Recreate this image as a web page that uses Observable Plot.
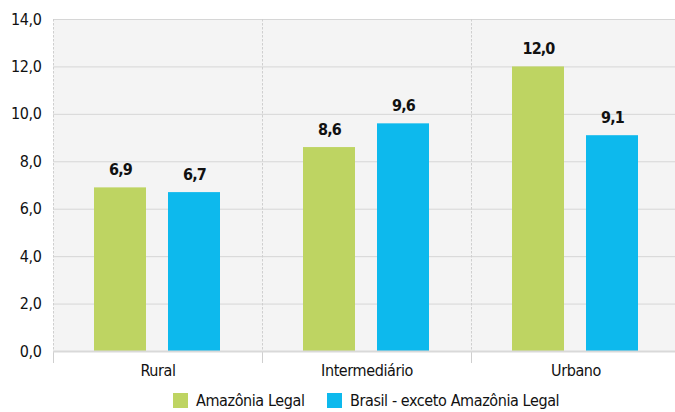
<!DOCTYPE html>
<html><head><meta charset="utf-8">
<script src="https://cdn.jsdelivr.net/npm/d3@7"></script>
<script src="https://cdn.jsdelivr.net/npm/@observablehq/plot@0.6"></script>
<style>
body{margin:0;background:#fff;overflow:hidden;font-family:"DejaVu Sans Condensed",sans-serif;color:#111;}
#chart{width:675px;height:385px;overflow:hidden;}
#chart svg{max-width:none !important;}
#legend{position:relative;height:27px;font-size:16px;letter-spacing:-0.4px;}
.item{position:absolute;top:6px;display:flex;align-items:center;white-space:nowrap;}
.sw{width:15px;height:15px;margin-right:8px;display:inline-block;}
</style>
</head><body>
<div id="chart"></div>
<div id="legend"></div>
<script>
const groups = ["Rural", "Intermediário", "Urbano"];
const seriesNames = ["Amazônia Legal", "Brasil - exceto Amazônia Legal"];
const amazonia = [6.9, 8.6, 12.0];
const brasil = [6.7, 9.6, 9.1];
const colors = ["#bed462", "#0db9ed"];
const yTicks = [0, 2, 4, 6, 8, 10, 12, 14];

const seriesValues = [amazonia, brasil];
const data = [];
groups.forEach((g, i) => seriesNames.forEach((s, j) => data.push({group: g, series: s, value: seriesValues[j][i]})));
const fmt = v => v.toFixed(1).replace(".", ",");
const FONT = '"DejaVu Sans Condensed",sans-serif';

const chart = Plot.plot({
  width: 681,
  height: 385,
  marginLeft: 52,
  marginRight: 0,
  marginTop: 19,
  marginBottom: 34,
  style: {fontFamily: FONT, fontSize: "16px", letterSpacing: "-0.4px", color: "#111", background: "transparent", maxWidth: "none"},
  fx: {domain: groups, padding: 0, axis: "bottom", tickSize: 0, tickPadding: 13, label: null},
  x: {domain: seriesNames, paddingInner: 0.297, paddingOuter: 0.56, axis: null},
  y: {domain: [0, 14], ticks: yTicks, tickSize: 0, tickPadding: 12, tickFormat: fmt, label: null},
  color: {domain: seriesNames, range: colors},
  marks: [
    Plot.frame({fill: "#f4f4f4"}),
    Plot.ruleY(yTicks.filter(d => d > 0), {stroke: "#d6d6d6", strokeWidth: 1}),
    Plot.frame({anchor: "left", stroke: "#cfcfcf", strokeDasharray: "1.5,2.5"}),
    Plot.frame({anchor: "left", stroke: "#cfcfcf", insetTop: 332, insetBottom: -11}),
    Plot.barY(data, {fx: "group", x: "series", y: "value", fill: "series"}),
    Plot.ruleY([0], {stroke: "#d9d9d9", strokeWidth: 2}),
    Plot.text(data, {fx: "group", x: "series", y: "value", text: d => fmt(d.value), dy: -18, fontWeight: "bold", fontSize: 16, fill: "#111"})
  ]
});
chart.querySelectorAll("text").forEach(t => {
  if (t.closest("[aria-label='text']")) t.setAttribute("letter-spacing", "-0.9");
});
chart.style.maxWidth = "none";
document.getElementById("chart").appendChild(chart);

const legend = document.getElementById("legend");
const lx = [173, 327];
seriesNames.forEach((s, i) => {
  const it = document.createElement("div");
  it.className = "item";
  it.style.left = lx[i] + "px";
  it.innerHTML = `<span class="sw" style="background:${colors[i]}"></span><span>${s}</span>`;
  legend.appendChild(it);
});
</script>
</body></html>
